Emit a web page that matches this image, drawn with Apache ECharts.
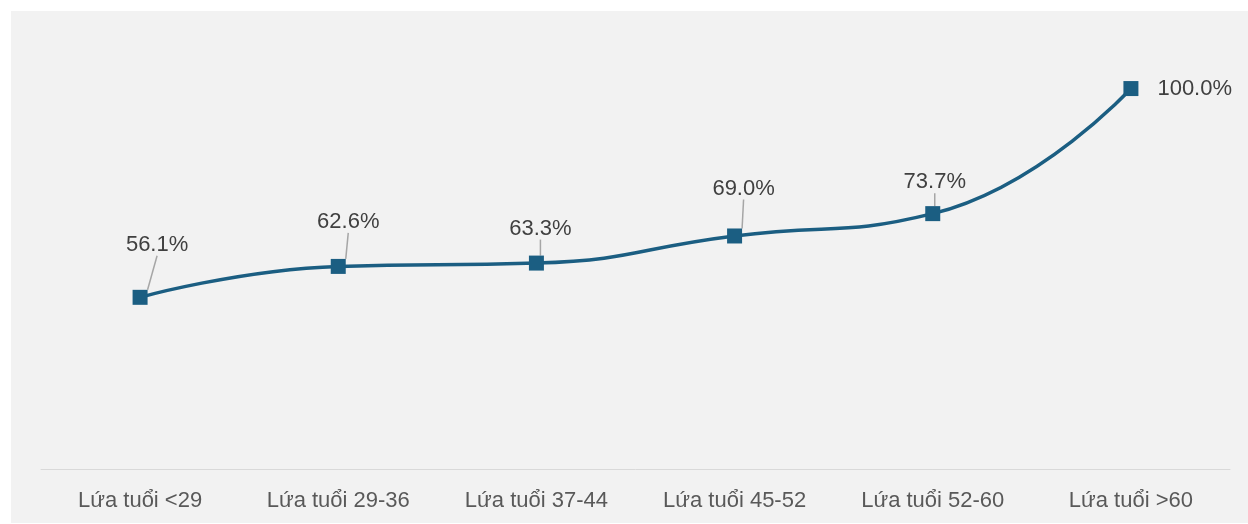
<!DOCTYPE html>
<html><head><meta charset="utf-8">
<script src="https://cdn.jsdelivr.net/npm/echarts@6/dist/echarts.min.js"></script>
<style>html,body{margin:0;padding:0;background:#fff}#c{width:1248px;height:524px}</style>
</head><body><div id="c"></div>
<script>
const categories = ['Lứa tuổi <29','Lứa tuổi 29-36','Lứa tuổi 37-44','Lứa tuổi 45-52','Lứa tuổi 52-60','Lứa tuổi >60'];
const values = [56.1, 62.6, 63.3, 69.0, 73.7, 100.0];
const labelShift = [[17,-28],[10,-20],[4,-10],[9,-23],[2,-7],null];

const FONT = 'Liberation Sans, Arial, sans-serif';
const chart = echarts.init(document.getElementById('c'));
chart.setOption({
  backgroundColor: '#ffffff',
  animation: false,
  graphic: [{type:'rect', left:11, top:11, shape:{width:1237, height:512}, style:{fill:'#f2f2f2'}, z:-10}],
  grid: {left:41, right:18, top:41, bottom:55},
  xAxis: {
    type:'category', data:categories, boundaryGap:true,
    axisLine:{lineStyle:{color:'#d9d9d9', width:1}},
    axisTick:{show:false},
    axisLabel:{color:'#595959', fontSize:22, fontFamily:FONT, margin:21}
  },
  yAxis: {type:'value', min:20, max:110, show:false, splitLine:{show:false}},
  series: [{
    type:'line',
    data: values.map((v, i) => i === values.length - 1
      ? {value:v, label:{position:'right', distance:19}, labelLine:{show:false}}
      : v),
    smooth:0.5,
    symbol:'rect', symbolSize:15,
    lineStyle:{color:'#1b5e82', width:3.5},
    itemStyle:{color:'#1b5e82'},
    label:{
      show:true, position:'top', distance:6,
      formatter: p => p.value.toFixed(1) + '%',
      color:'#404040', fontSize:22, fontFamily:FONT
    },
    labelLine:{show:true, lineStyle:{color:'#a6a6a6', width:1.5}},
    labelLayout: function(params){
      const s = labelShift[params.dataIndex];
      if (!s) return {};
      return {dx: s[0], dy: s[1]};
    }
  }]
});
</script></body></html>
